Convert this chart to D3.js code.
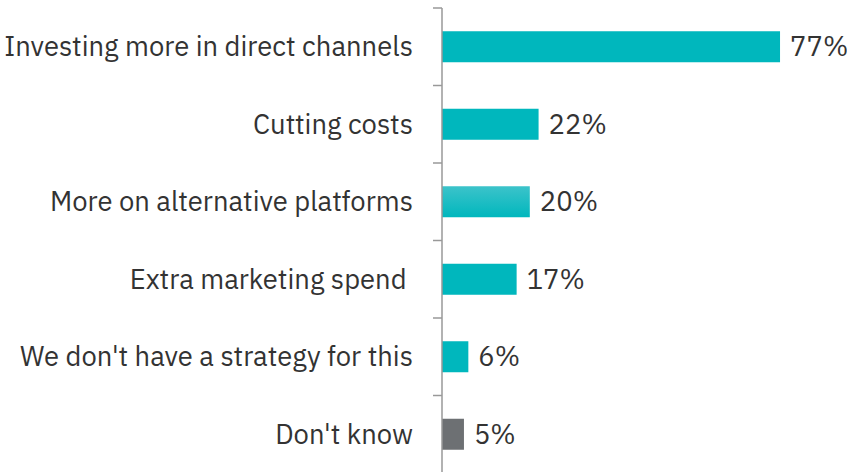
<!DOCTYPE html>
<html><head><meta charset="utf-8">
<script src="https://cdn.jsdelivr.net/npm/d3@7"></script>
<style>body{margin:0;background:#fff;} text{font-family:"IBM Plex Sans","Noto Sans",sans-serif;}</style>
</head><body>
<svg id="c" width="847" height="472"></svg>
<script>
const categories = ["Investing more in direct channels","Cutting costs","More on alternative platforms","Extra marketing spend ","We don't have a strategy for this","Don't know"];
const values = [77,22,20,17,6,5];
const valueLabels = ["77%","22%","20%","17%","6%","5%"];
const colors = ["#00b7bd","#00b7bd","url(#grad)","#00b7bd","#00b7bd","#6d7073"];

const svg = d3.select("#c");
const defs = svg.append("defs");
const g0 = defs.append("linearGradient").attr("id","grad").attr("x1",0).attr("y1",0).attr("x2",0).attr("y2",1);
g0.append("stop").attr("offset","0%").attr("stop-color","#3cc3ca");
g0.append("stop").attr("offset","100%").attr("stop-color","#00b7bd");

const x0 = 442;
const x = d3.scaleLinear().domain([0,100]).range([x0, x0+439]);
const yb = d3.scaleBand().domain(categories).range([8,473]);

// bars
svg.selectAll("rect.bar").data(values).enter().append("rect")
  .attr("x", x(0)).attr("y",(d,i)=>yb(categories[i]) + yb.bandwidth()/2 - 15.5)
  .attr("width", d=>x(d)-x(0)).attr("height",31)
  .attr("fill",(d,i)=>colors[i]);

// axis
const ag = svg.append("g").attr("transform",`translate(${x0},0)`);
ag.append("line").attr("x1",0).attr("x2",0).attr("y1",8).attr("y2",473).attr("stroke","#999").attr("stroke-width",1.5);
const bounds = categories.map(c=>yb(c)).concat([yb.range()[1]]);
ag.selectAll("line.tk").data(bounds).enter().append("line")
  .attr("x1",-9).attr("x2",0).attr("y1",d=>d).attr("y2",d=>d).attr("stroke","#999").attr("stroke-width",1.5);

// category labels
svg.selectAll("text.cat").data(categories).enter().append("text")
  .attr("x",413).attr("y",c=>yb(c)+yb.bandwidth()/2)
  .attr("dy","0.35em").attr("text-anchor","end")
  .style("white-space","pre")
  .attr("font-size",27.4).attr("fill","#333")
  .text(d=>d);

// value labels
svg.selectAll("text.val").data(values).enter().append("text")
  .attr("x",d=>x(d)+10).attr("y",(d,i)=>yb(categories[i])+yb.bandwidth()/2)
  .attr("dy","0.35em").attr("font-size",27.4).attr("fill","#333")
  .text((d,i)=>valueLabels[i]);
</script>
</body></html>
